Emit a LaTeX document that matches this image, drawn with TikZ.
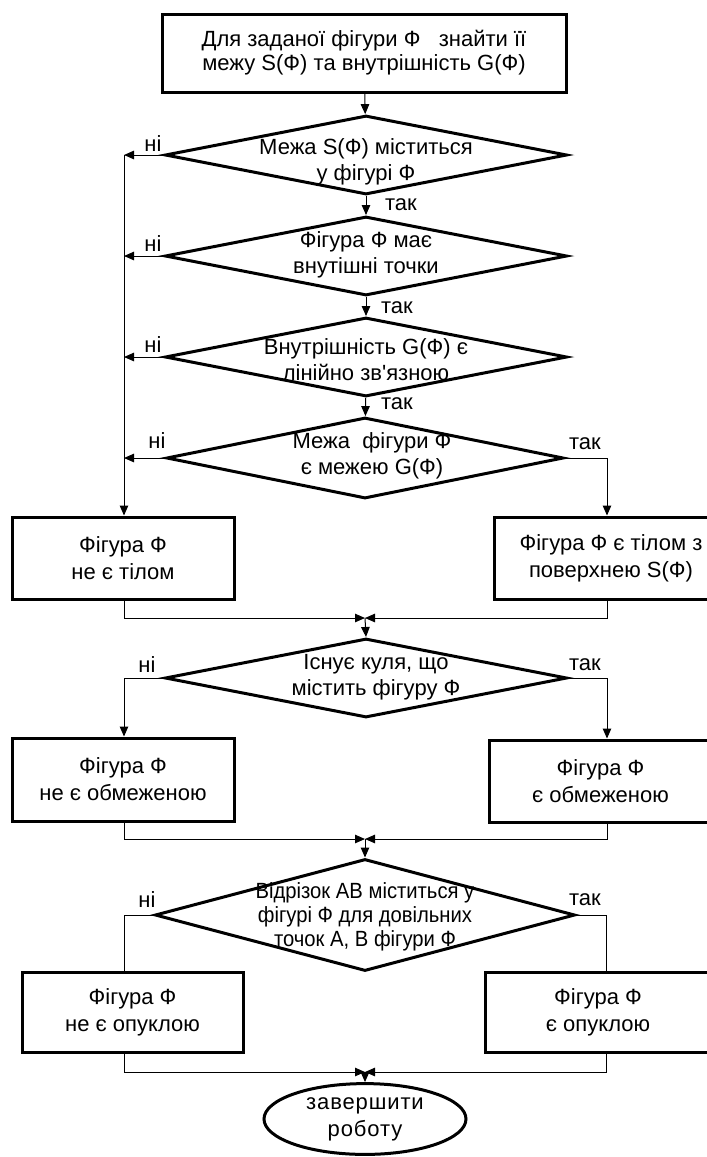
\documentclass[tikz,border=0pt]{standalone}
\usepackage{fontspec}
\newfontfamily\flowfont{Liberation Sans}
\newfontfamily\narrowfont{Liberation Sans}[FakeStretch=0.92]
\newfontfamily\endfont{Liberation Sans}[LetterSpace=4]
\usetikzlibrary{arrows.meta,positioning,shapes.geometric}
\tikzset{
  procbox/.style={draw,line width=3pt,rectangle,minimum width=222pt,
    minimum height=82pt,align=center,font=\flowfont\fontsize{22}{27}\selectfont},
  decision/.style={draw,diamond,line width=3pt,inner sep=0pt,
    minimum width=402pt,minimum height=79pt},
  dtext/.style={align=center,inner sep=0pt,font=\flowfont\fontsize{22}{26}\selectfont},
  terminator/.style={draw,ellipse,line width=3pt,minimum width=202pt,
    minimum height=62pt,align=center,font=\endfont\fontsize{22}{27}\selectfont},
  answer/.style={inner sep=1pt,font=\flowfont\fontsize{22}{24}\selectfont},
  flowarrow/.style={-{Triangle[length=10pt,width=8.5pt]},line width=1pt},
  flowline/.style={line width=1pt},
}
\begin{document}
\begin{tikzpicture}[x=1pt,y=-1pt]
  \useasboundingbox (0,0) rectangle (707,1157);
  % start and the four checks of the left column
  \node[procbox,minimum width=404pt,minimum height=78pt,
        font=\flowfont\fontsize{22}{24}\selectfont] (start) at (364,53)
    {Для заданої фігури Ф~~~знайти її\\межу S(Ф) та внутрішність G(Ф)};
  \node[decision,label={[dtext,yshift=-7pt]center:Межа S(Ф) міститься\\у фігурі Ф}] (q1) at (366,155) {};
  \node[decision,label={[dtext,yshift=1pt]center:Фігура Ф має\\внутішні точки}] (q2) at (366,256) {};
  \node[decision,label={[dtext,yshift=-3pt]center:Внутрішність G(Ф) є\\лінійно зв'язною}] (q3) at (366,357) {};
  \node[decision,minimum width=397pt,minimum height=81pt,
        label={[dtext,xshift=7pt,yshift=2pt]center:Межа~~фігури Ф\\є межею G(Ф)}] (q4) at (365,458) {};
  \coordinate (rail) at (124,155);
  \coordinate (rrail) at (607,458);
  \node[procbox] (notbody) at (123,558) {Фігура Ф\\не є тілом};
  \node[procbox,minimum width=234pt] (body) at (611,558) {Фігура Ф є тілом з\\поверхнею S(Ф)};
  % boundedness
  \coordinate (m1) at (365,618);
  \node[decision,label={[dtext,xshift=10pt,yshift=1pt]center:Існує куля, що\\містить фігуру Ф}] (q5) at (366,678) {};
  \node[procbox,minimum height=83pt] (notbnd) at (123,779.5) {Фігура Ф\\не є обмеженою};
  \node[procbox,minimum width=223pt] (bnd) at (600.5,781) {Фігура Ф\\є обмеженою};
  % convexity
  \coordinate (m2) at (365,839);
  \node[decision,minimum width=420pt,minimum height=112pt,
        label={[dtext,yshift=-2pt,font=\narrowfont\fontsize{22}{24}\selectfont]center:Відрізок АВ міститься у\\фігурі Ф для довільних\\точок А, В фігури Ф}] (q6) at (365,915) {};
  \node[procbox,minimum width=221pt,minimum height=80pt] (notconv) at (132.5,1012) {Фігура Ф\\не є опуклою};
  \node[procbox,minimum width=226pt,minimum height=80pt] (conv) at (598,1012) {Фігура Ф\\є опуклою};
  \coordinate (m3) at (365,1072);
  \node[terminator] (finish) at (365,1119) {завершити\\роботу};

  \draw[flowarrow] (start) -- (q1);
  \draw[flowarrow] (q1) -- (q2);
  \draw[flowarrow] (q2) -- (q3);
  \draw[flowarrow] (q3) -- (q4);
  \draw[flowarrow] (q1.west) -- (rail);
  \draw[flowarrow] (q2.west) -- (q2.west -| rail);
  \draw[flowarrow] (q3.west) -- (q3.west -| rail);
  \draw[flowarrow] (q4.west) -- (q4.west -| rail);
  \draw[flowarrow] (rail) -- (rail |- notbody.north);
  \draw[flowarrow] (q4.east) -- (rrail) -- (rrail |- body.north);
  \draw[flowarrow] (rail |- notbody.south) |- (m1);
  \draw[flowarrow] (rrail |- body.south) |- (m1);
  \draw[flowarrow] (m1) -- (q5.north);
  \draw[flowarrow] (q5.west) -| (rail |- notbnd.north);
  \draw[flowarrow] (q5.east) -| (rrail |- bnd.north);
  \draw[flowarrow] (rail |- notbnd.south) |- (m2);
  \draw[flowarrow] (rrail |- bnd.south) |- (m2);
  \draw[flowarrow] (m2) -- (q6.north);
  \draw[flowline] (q6.west) -| (rail |- notconv.north);
  \draw[flowline] (q6.east) -| ([xshift=-1pt]rrail |- conv.north);
  \draw[flowarrow] (rail |- notconv.south) |- (m3);
  \draw[flowarrow] ([xshift=-1pt]rrail |- conv.south) |- (m3);
  \draw[flowarrow] (m3) -- (finish);

  % answers at the branches
  \node[answer] (no1) at (153,144) {ні};
  \node[answer] (no2) at (153,244) {ні};
  \node[answer] (no3) at (153,345) {ні};
  \node[answer] (no4) at (157,441) {ні};
  \node[answer] (no5) at (147,665) {ні};
  \node[answer] (no6) at (147,900) {ні};
  \node[answer] (yes1) at (401,205) {так};
  \node[answer] (yes2) at (397,308) {так};
  \node[answer] (yes3) at (397,404) {так};
  \node[answer] (yes4) at (585,444) {так};
  \node[answer] (yes5) at (585,665) {так};
  \node[answer] (yes6) at (585,900) {так};
\end{tikzpicture}
\end{document}
